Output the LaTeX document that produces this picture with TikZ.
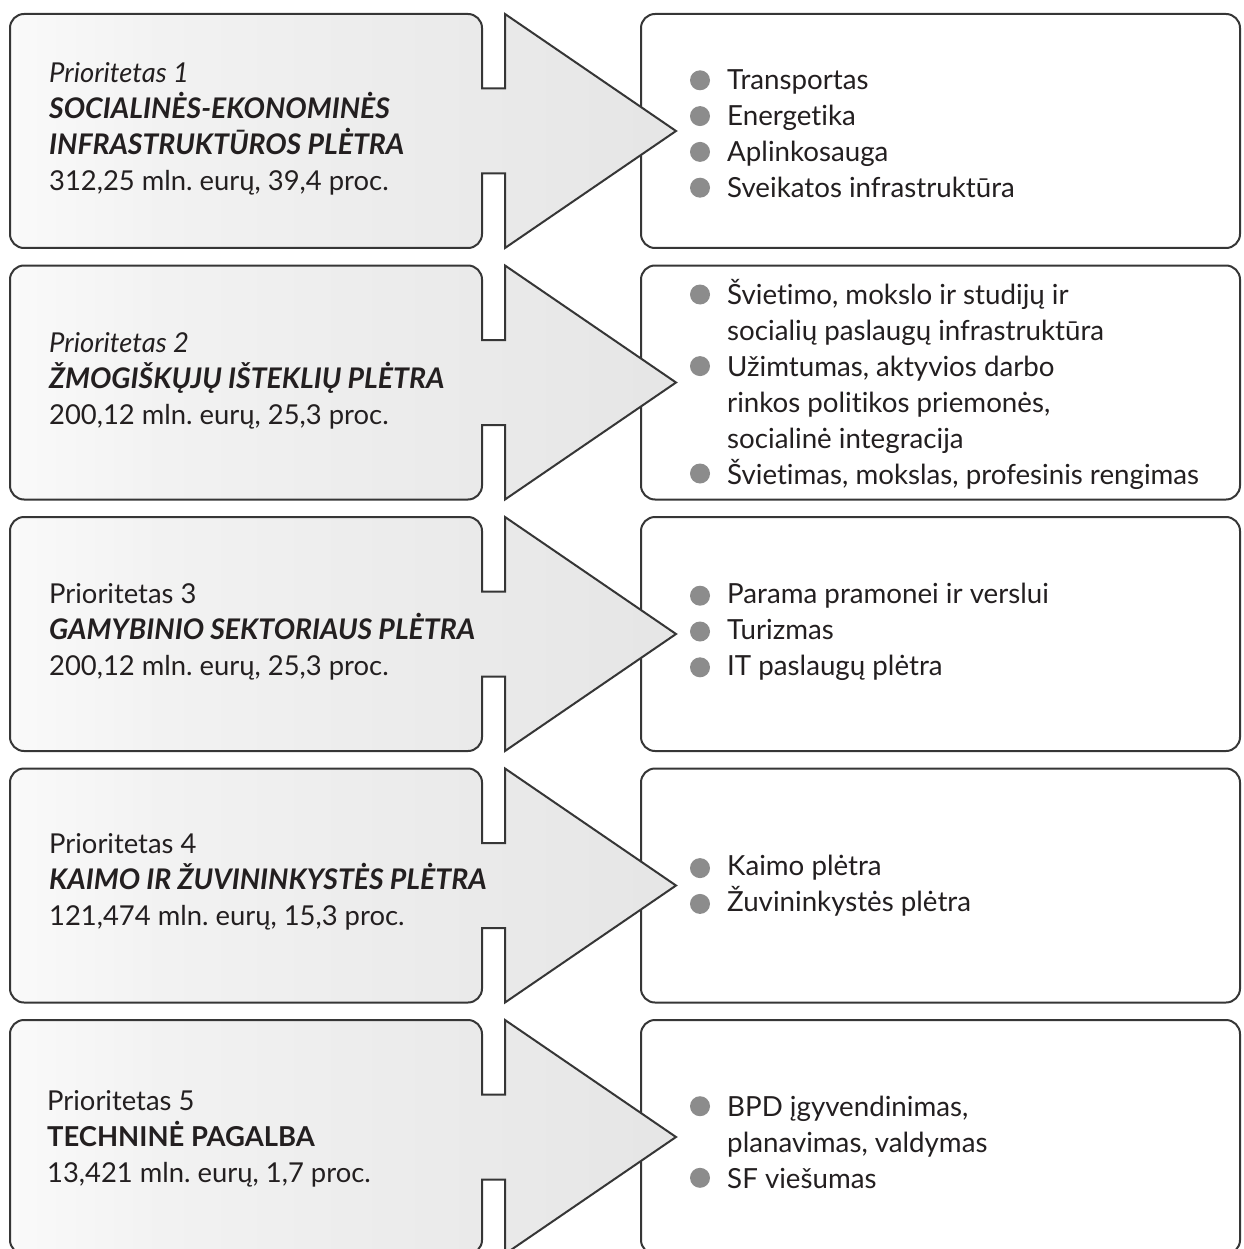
\documentclass[tikz,border=0pt]{standalone}
\usepackage{fontspec}
\setmainfont{Lato}[Ligatures=NoCommon]
\definecolor{edge}{HTML}{363636}
\definecolor{ink}{HTML}{231F20}
\definecolor{dot}{HTML}{8C8C8C}
% light grey fill that fades towards white at the left end
% (the path's bounding box spans 25bp..75bp of the shading)
\pgfdeclarehorizontalshading{leftgrad}{100bp}{color(0bp)=(white); color(25bp)=(white!98!black); color(36bp)=(black!5); color(50bp)=(black!7); color(75bp)=(black!10); color(100bp)=(black!10)}

\tikzset{
  panel/.style={draw=edge, line width=2pt, fill=white, rounded corners=14pt},
  arrowpanel/.style={draw=edge, line width=2pt, shading=leftgrad, line join=miter},
  bodytext/.style={anchor=west, inner sep=0pt, align=left, text=ink,
    font=\fontsize{27.4}{36}\selectfont},
  listtext/.style={bodytext, font=\fontsize{27.7}{36}\selectfont},
  bulletdot/.style={fill=dot, draw=none},
}
\newcommand\headline[1]{{\fontsize{28.4}{36}\selectfont\bfseries\itshape #1}}

% one row: white list panel on the right, grey box with arrow on the left
% #1 = top edge of the row
\newcommand\rowshape[1]{%
  \pgfmathsetmacro\rT{#1}%
  \pgfmathsetmacro\rB{#1+234}%
  \pgfmathsetmacro\rC{#1+117}%
  \pgfmathsetmacro\nU{\rC-42.5}%
  \pgfmathsetmacro\nD{\rC+42.5}%
  \draw[panel] (641,\rT) rectangle (1240,\rB);
  \shadedraw[arrowpanel] (10,\rC) -- (10,\rT+14)
    arc[start angle=180, end angle=270, radius=14] -- (468,\rT)
    arc[start angle=270, end angle=360, radius=14] -- (482,\nU) -- (505,\nU)
    -- (505,\rT) -- (676,\rC) -- (505,\rB) -- (505,\nD) -- (482,\nD)
    -- (482,\rB-14) arc[start angle=0, end angle=90, radius=14] -- (24,\rB)
    arc[start angle=90, end angle=180, radius=14] -- cycle;
}
% bullet dot on line #2 of a list centred at height #1 with #3 lines
\newcommand\listdot[3]{%
  \fill[bulletdot] (700,{#1+(#2-(#3-1)/2)*35.8}) circle[radius=10];
}

\begin{document}
\frenchspacing
\begin{tikzpicture}[x=1pt, y=-1pt]
\useasboundingbox (0,0) rectangle (1243,1249);

% ---- Priority 1
\rowshape{14}
\node[bodytext] (p1) at (49,128.5) {\textit{Prioritetas 1}\\
  \headline{SOCIALINĖS-EKONOMINĖS}\\
  \headline{INFRASTRUKTŪROS PLĖTRA}\\
  312,25 mln. eurų, 39,4 proc.};
\node[listtext] (l1) at (727,134) {Transportas\\Energetika\\Aplinkosauga\\Sveikatos infrastruktūra};
\foreach \i in {0,1,2,3} {\listdot{134}{\i}{4}}

% ---- Priority 2
\rowshape{265.5}
\node[bodytext] (p2) at (49,380.5) {\textit{Prioritetas 2}\\
  \headline{ŽMOGIŠKŲJŲ IŠTEKLIŲ PLĖTRA}\\
  200,12 mln. eurų, 25,3 proc.};
\node[listtext] (l2) at (727,384) {Švietimo, mokslo ir studijų ir\\
  socialių paslaugų infrastruktūra\\
  Užimtumas, aktyvios darbo\\
  rinkos politikos priemonės,\\
  socialinė integracija\\
  Švietimas, mokslas, profesinis rengimas};
\foreach \i in {0,2,5} {\listdot{384}{\i}{6}}

% ---- Priority 3
\rowshape{517}
\node[bodytext] (p3) at (49,632) {Prioritetas 3\\
  \headline{GAMYBINIO SEKTORIAUS PLĖTRA}\\
  200,12 mln. eurų, 25,3 proc.};
\node[listtext] (l3) at (727,631.5) {Parama pramonei ir verslui\\Turizmas\\IT paslaugų plėtra};
\foreach \i in {0,1,2} {\listdot{631.5}{\i}{3}}

% ---- Priority 4
\rowshape{768.5}
\node[bodytext] (p4) at (49,882) {Prioritetas 4\\
  \headline{KAIMO IR ŽUVININKYSTĖS PLĖTRA}\\
  121,474 mln. eurų, 15,3 proc.};
\node[listtext] (l4) at (727,886) {Kaimo plėtra\\Žuvininkystės plėtra};
\foreach \i in {0,1} {\listdot{886}{\i}{2}}

% ---- Priority 5
\rowshape{1020}
\node[bodytext] (p5) at (47,1138.5) {Prioritetas 5\\
  \textbf{TECHNINĖ PAGALBA}\\
  13,421 mln. eurų, 1,7 proc.};
\node[listtext] (l5) at (727,1142) {BPD įgyvendinimas,\\planavimas, valdymas\\SF viešumas};
\foreach \i in {0,2} {\listdot{1142}{\i}{3}}

\end{tikzpicture}
\end{document}
